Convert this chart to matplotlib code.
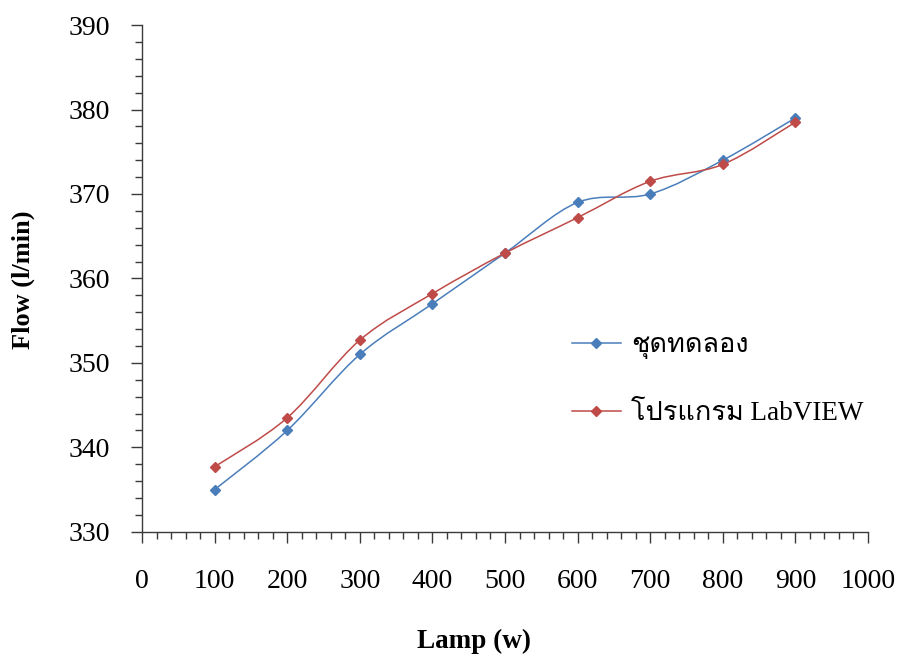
import matplotlib
matplotlib.use("Agg")
import matplotlib.pyplot as plt
from matplotlib import font_manager
from matplotlib.path import Path
from matplotlib.patches import PathPatch
from matplotlib.lines import Line2D
from matplotlib.ticker import MultipleLocator

# Measured flow versus lamp power
lamp_w = [100, 200, 300, 400, 500, 600, 700, 800, 900]
flow_test_rig = [335, 342, 351, 357, 363, 369, 370, 374, 379]
flow_labview = [337.7, 343.5, 352.7, 358.2, 363.0, 367.2, 371.5, 373.5, 378.5]
series_names = ["ชุดทดลอง", "โปรแกรม LabVIEW"]
x_ticks = [0, 100, 200, 300, 400, 500, 600, 700, 800, 900, 1000]
y_ticks = [330, 340, 350, 360, 370, 380, 390]

SERIF = "Liberation Serif"


def thai_capable_families():
    """Return installed font families that contain Thai glyphs."""
    found = []
    try:
        from fontTools.ttLib import TTFont
    except Exception:
        return found
    for f in font_manager.fontManager.ttflist:
        if f.name in found:
            continue
        try:
            tt = TTFont(f.fname, fontNumber=0, lazy=True)
            cmap = tt.getBestCmap() or {}
            if 0x0E0A in cmap and 0x0E42 in cmap:
                found.append(f.name)
        except Exception:
            pass
    return found


thai = thai_capable_families()
legend_family = [SERIF] + thai + ["DejaVu Sans"]


def smooth_path(xs, ys):
    """Catmull-Rom style Bezier path through the points."""
    pts = list(zip(xs, ys))
    n = len(pts)
    verts = [pts[0]]
    codes = [Path.MOVETO]
    for i in range(n - 1):
        p0 = pts[i - 1] if i > 0 else pts[i]
        p1 = pts[i]
        p2 = pts[i + 1]
        p3 = pts[i + 2] if i + 2 < n else pts[i + 1]
        c1 = (p1[0] + (p2[0] - p0[0]) / 6.0, p1[1] + (p2[1] - p0[1]) / 6.0)
        c2 = (p2[0] - (p3[0] - p1[0]) / 6.0, p2[1] - (p3[1] - p1[1]) / 6.0)
        verts += [c1, c2, p2]
        codes += [Path.CURVE4, Path.CURVE4, Path.CURVE4]
    return Path(verts, codes)


fig = plt.figure(figsize=(8.99, 6.59), dpi=100)
ax = fig.add_axes([0.158, 0.193, 0.8075, 0.769])

colors = ["#4A7EBB", "#BE4B48"]
handles = []
for ys, c, name in zip([flow_test_rig, flow_labview], colors, series_names):
    ax.add_patch(PathPatch(smooth_path(lamp_w, ys), facecolor="none",
                           edgecolor=c, lw=1.1, zorder=2))
    ax.plot(lamp_w, ys, linestyle="none", marker="D", markersize=5.5,
            color=c, zorder=3)
    handles.append(Line2D([], [], color=c, lw=1.1, marker="D",
                          markersize=5.5, label=name))

ax.set_xlim(0, 1000)
ax.set_ylim(330, 390)
ax.set_xticks(x_ticks)
ax.set_yticks(y_ticks)
ax.xaxis.set_minor_locator(MultipleLocator(20))
ax.yaxis.set_minor_locator(MultipleLocator(2))

for s in ["top", "right"]:
    ax.spines[s].set_visible(False)
for s in ["left", "bottom"]:
    ax.spines[s].set_color("#3a3a3a")
    ax.spines[s].set_linewidth(1.0)

ax.tick_params(which="major", direction="out", length=8, width=1.0,
               color="#3a3a3a")
ax.tick_params(which="minor", direction="out", length=5, width=1.0,
               color="#3a3a3a")
ax.tick_params(axis="x", which="major", pad=19)
ax.tick_params(axis="y", which="major", pad=15)
for lbl in ax.get_xticklabels() + ax.get_yticklabels():
    lbl.set_fontfamily(SERIF)
    lbl.set_fontsize(20)

fig.text(0.527, 0.027, "Lamp (w)", family=SERIF, fontsize=19.5,
         fontweight="bold", ha="center", va="center")
fig.text(0.026, 0.576, "Flow (l/min)", family=SERIF, fontsize=19,
         fontweight="bold", ha="center", va="center", rotation=90)

leg = fig.legend(handles=handles, loc="upper left",
                 bbox_to_anchor=(0.609, 0.531), frameon=False,
                 handlelength=1.8, handletextpad=0.4, labelspacing=1.55,
                 prop={"family": legend_family, "size": 19.5})

fig.savefig("out.png", dpi=100)
